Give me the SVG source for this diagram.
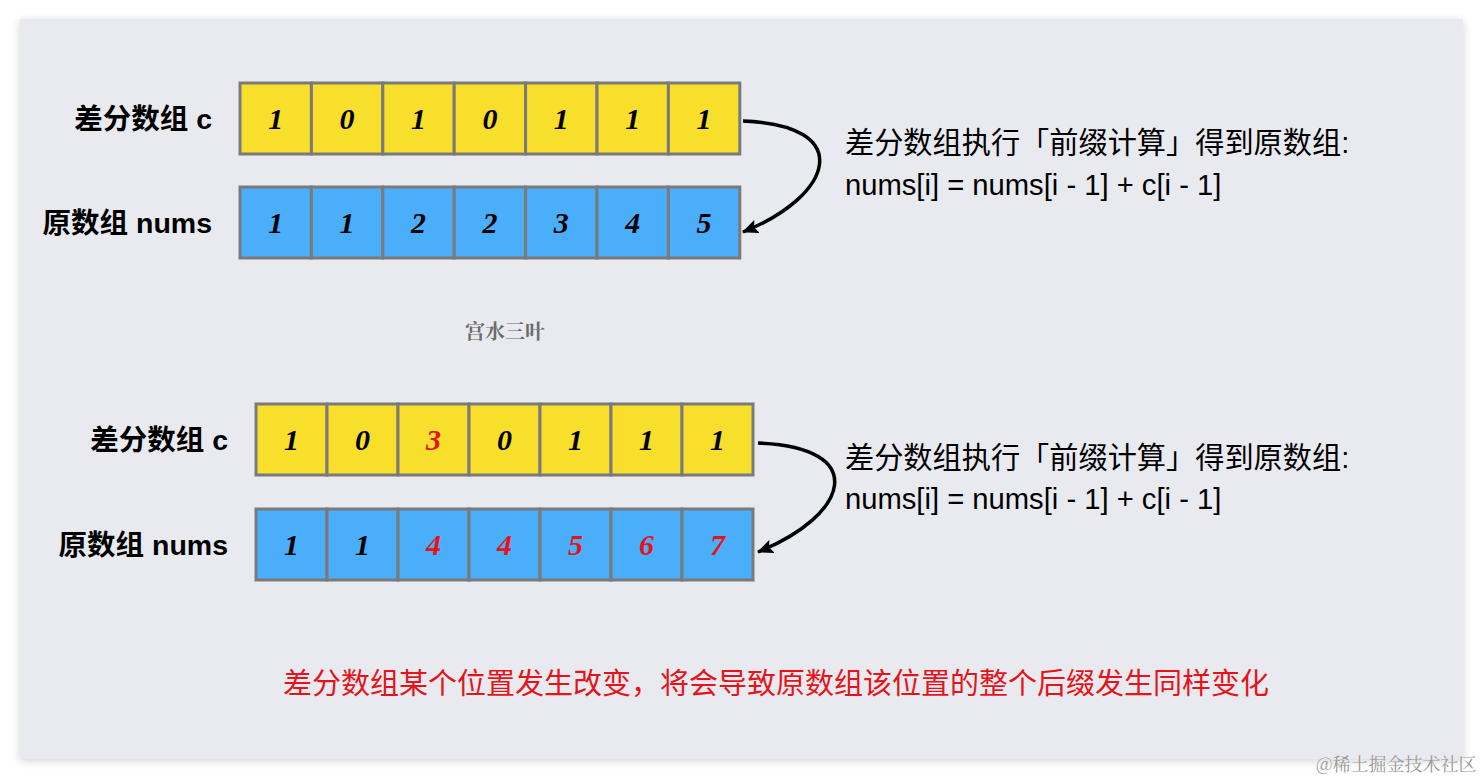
<svg xmlns="http://www.w3.org/2000/svg" width="1483" height="781" viewBox="0 0 1483 781">
<defs>
<filter id="sh" x="-5%" y="-5%" width="110%" height="110%">
<feGaussianBlur in="SourceAlpha" stdDeviation="5"/>
<feOffset dx="0" dy="2"/>
<feComponentTransfer><feFuncA type="linear" slope="0.18"/></feComponentTransfer>
<feMerge><feMergeNode/><feMergeNode in="SourceGraphic"/></feMerge>
</filter>
<marker id="ah" viewBox="0 0 16 14" refX="15" refY="7" markerWidth="16" markerHeight="14" markerUnits="userSpaceOnUse" orient="auto">
<path d="M0,0 L16,7 L0,14 L3,7 z" fill="#000"/>
</marker>
</defs>
<style>
.y{fill:#f8df2b;stroke:#7a7a7a;stroke-width:3}
.b{fill:#4aaefb;stroke:#7a7a7a;stroke-width:3}
.n{font-family:"Liberation Serif","Times New Roman",serif;font-weight:bold;font-style:italic;font-size:30px;text-anchor:middle;fill:#000}
.r{fill:#e5141b}
.lbl{font-family:"Liberation Sans","Noto Sans CJK SC",sans-serif;font-weight:bold;font-size:28.5px;text-anchor:end;fill:#000}
.desc{font-family:"Liberation Sans","Noto Sans CJK SC",sans-serif;font-size:29.2px;fill:#000}
.con{fill:none;stroke:#000;stroke-width:3.5}
</style>
<rect x="0" y="0" width="1483" height="781" fill="#ffffff"/>
<rect x="20" y="19" width="1443" height="740" fill="#e9eaef" filter="url(#sh)"/>

<g id="top-c">
<text class="lbl" x="212" y="129">差分数组 c</text>
<rect class="y" x="240" y="83" width="71.4" height="71"/>
<rect class="y" x="311.4" y="83" width="71.4" height="71"/>
<rect class="y" x="382.8" y="83" width="71.4" height="71"/>
<rect class="y" x="454.2" y="83" width="71.4" height="71"/>
<rect class="y" x="525.6" y="83" width="71.4" height="71"/>
<rect class="y" x="597" y="83" width="71.4" height="71"/>
<rect class="y" x="668.4" y="83" width="71.4" height="71"/>
<text class="n" x="275.7" y="129">1</text>
<text class="n" x="347.1" y="129">0</text>
<text class="n" x="418.5" y="129">1</text>
<text class="n" x="489.9" y="129">0</text>
<text class="n" x="561.3" y="129">1</text>
<text class="n" x="632.7" y="129">1</text>
<text class="n" x="704.1" y="129">1</text>
</g>

<g id="top-nums">
<text class="lbl" x="212" y="233">原数组 nums</text>
<rect class="b" x="240" y="187" width="71.4" height="71"/>
<rect class="b" x="311.4" y="187" width="71.4" height="71"/>
<rect class="b" x="382.8" y="187" width="71.4" height="71"/>
<rect class="b" x="454.2" y="187" width="71.4" height="71"/>
<rect class="b" x="525.6" y="187" width="71.4" height="71"/>
<rect class="b" x="597" y="187" width="71.4" height="71"/>
<rect class="b" x="668.4" y="187" width="71.4" height="71"/>
<text class="n" x="275.7" y="233">1</text>
<text class="n" x="347.1" y="233">1</text>
<text class="n" x="418.5" y="233">2</text>
<text class="n" x="489.9" y="233">2</text>
<text class="n" x="561.3" y="233">3</text>
<text class="n" x="632.7" y="233">4</text>
<text class="n" x="704.1" y="233">5</text>
</g>

<g id="top-desc">
<text class="desc" x="845" y="153">差分数组执行「前缀计算」得到原数组:</text>
<text class="desc" x="845" y="195">nums[i] = nums[i - 1] + c[i - 1]</text>
</g>

<g id="watermark">
<text x="505" y="339" font-family="'Noto Serif CJK SC','Noto Sans CJK SC',serif" font-size="20" font-weight="bold" fill="#6b6b6b" text-anchor="middle">宫水三叶</text>
</g>

<g id="bottom-c">
<text class="lbl" x="228" y="450">差分数组 c</text>
<rect class="y" x="256" y="404" width="71" height="71"/>
<rect class="y" x="327" y="404" width="71" height="71"/>
<rect class="y" x="398" y="404" width="71" height="71"/>
<rect class="y" x="469" y="404" width="71" height="71"/>
<rect class="y" x="540" y="404" width="71" height="71"/>
<rect class="y" x="611" y="404" width="71" height="71"/>
<rect class="y" x="682" y="404" width="71" height="71"/>
<text class="n" x="291.5" y="450">1</text>
<text class="n" x="362.5" y="450">0</text>
<text class="n r" x="433.5" y="450">3</text>
<text class="n" x="504.5" y="450">0</text>
<text class="n" x="575.5" y="450">1</text>
<text class="n" x="646.5" y="450">1</text>
<text class="n" x="717.5" y="450">1</text>
</g>

<g id="bottom-nums">
<text class="lbl" x="228" y="555">原数组 nums</text>
<rect class="b" x="256" y="509" width="71" height="71"/>
<rect class="b" x="327" y="509" width="71" height="71"/>
<rect class="b" x="398" y="509" width="71" height="71"/>
<rect class="b" x="469" y="509" width="71" height="71"/>
<rect class="b" x="540" y="509" width="71" height="71"/>
<rect class="b" x="611" y="509" width="71" height="71"/>
<rect class="b" x="682" y="509" width="71" height="71"/>
<text class="n" x="291.5" y="555">1</text>
<text class="n" x="362.5" y="555">1</text>
<text class="n r" x="433.5" y="555">4</text>
<text class="n r" x="504.5" y="555">4</text>
<text class="n r" x="575.5" y="555">5</text>
<text class="n r" x="646.5" y="555">6</text>
<text class="n r" x="717.5" y="555">7</text>
</g>

<g id="bottom-desc">
<text class="desc" x="845" y="468">差分数组执行「前缀计算」得到原数组:</text>
<text class="desc" x="845" y="509">nums[i] = nums[i - 1] + c[i - 1]</text>
</g>

<g id="connectors">
<path class="con" d="M743,121 C855,125 835,195 743,232" marker-end="url(#ah)"/>
<path class="con" d="M758,443 C870,447 850,515 758,552" marker-end="url(#ah)"/>
</g>

<g id="note">
<text x="283" y="694" font-family="'Noto Sans CJK SC',sans-serif" font-size="29" fill="#e5141b">差分数组某个位置发生改变，将会导致原数组该位置的整个后缀发生同样变化</text>
</g>

<g id="site-mark">
<text x="1316" y="771" font-family="'Noto Serif CJK SC','Noto Sans CJK SC',serif" font-size="18" fill="#9a9a9a">@稀土掘金技术社区</text>
</g>
</svg>
